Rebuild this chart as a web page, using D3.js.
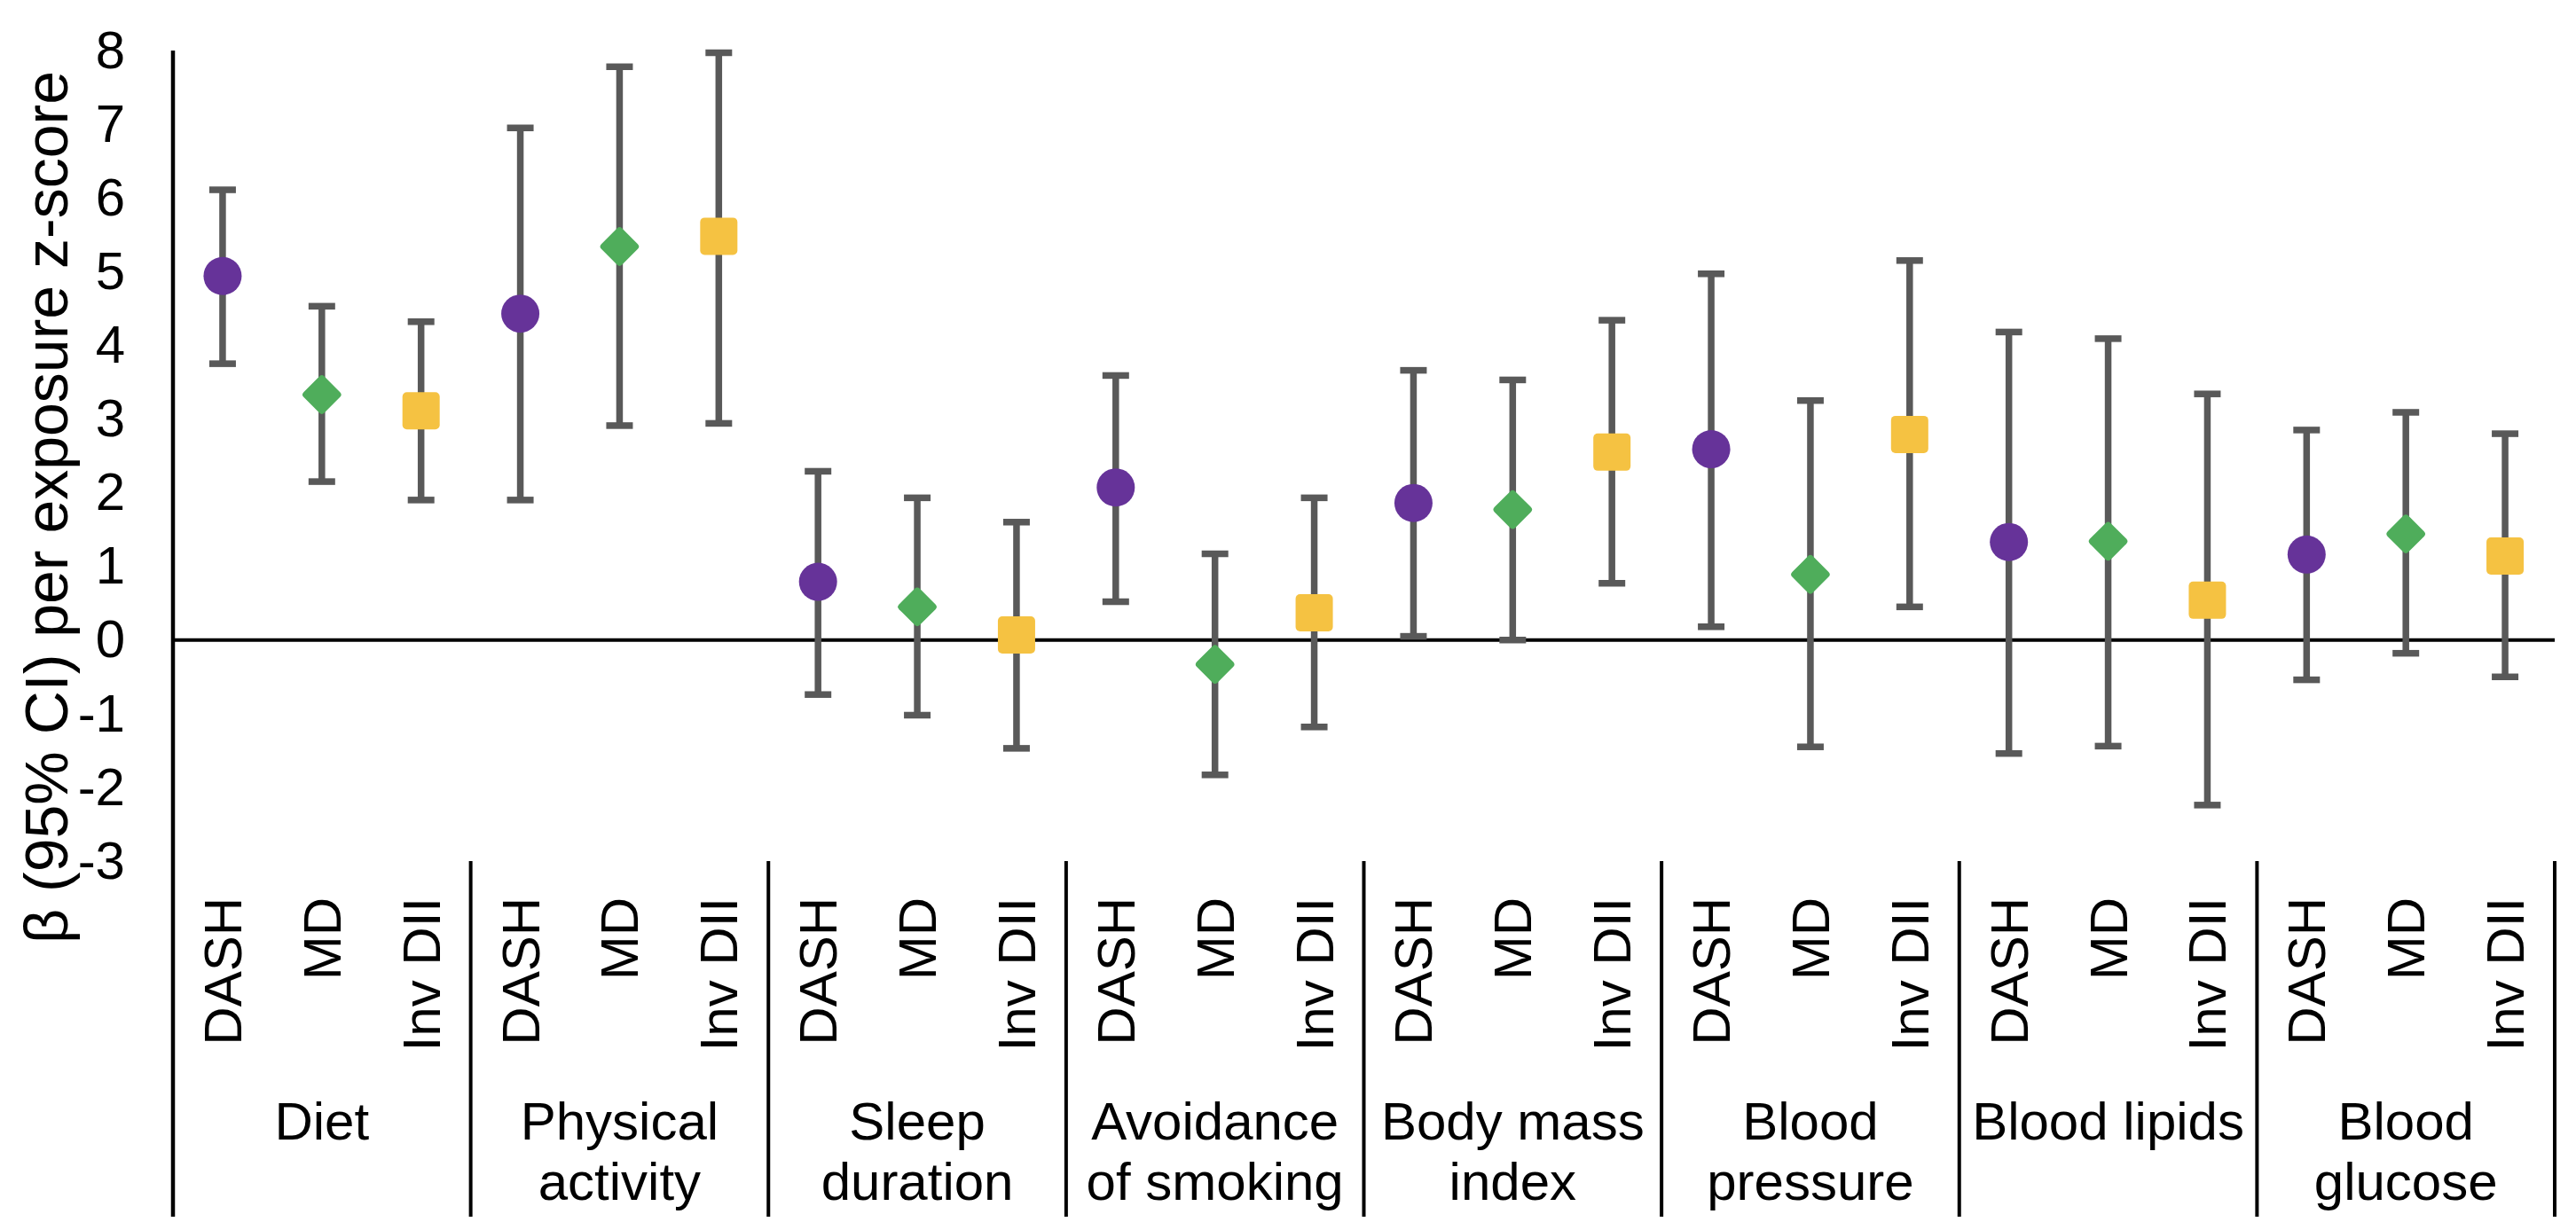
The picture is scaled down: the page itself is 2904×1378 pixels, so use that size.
<!DOCTYPE html>
<html>
  <head>
    <title>Lifestyle factors forest plot</title>
    <script src="https://d3js.org/d3.v7.min.js"></script>
    <style>
      body { margin: 0; background: #fff; }
      text { font-family: "Liberation Sans", Arial, sans-serif; fill: #000; }
      .axis text { font-size: 60px; }
      .sub-label { font-size: 60px; }
      .group-label { font-size: 60px; }
      .axis-title { font-size: 68px; }
    </style>
  </head>
  <body>
    <svg width="2904" height="1378"></svg>
    <script>
      const groups = ["Diet", "Physical activity", "Sleep duration", "Avoidance of smoking",
        "Body mass index", "Blood pressure", "Blood lipids", "Blood glucose"];
      const groupLines = [["Diet"], ["Physical", "activity"], ["Sleep", "duration"],
        ["Avoidance", "of smoking"], ["Body mass", "index"], ["Blood", "pressure"],
        ["Blood lipids"], ["Blood", "glucose"]];
      const scores = ["DASH", "MD", "Inv DII"];
      const yTicks = [-3, -2, -1, 0, 1, 2, 3, 4, 5, 6, 7, 8];

      const dashBeta  = [4.94, 4.43, 0.79, 2.07, 1.86, 2.59, 1.33, 1.16];
      const dashLower = [3.75, 1.90, -0.74, 0.52, 0.05, 0.18, -1.54, -0.54];
      const dashUpper = [6.11, 6.95, 2.29, 3.59, 3.66, 4.97, 4.18, 2.85];

      const mdBeta  = [3.33, 5.34, 0.45, -0.33, 1.77, 0.89, 1.34, 1.44];
      const mdLower = [2.15, 2.91, -1.02, -1.83, 0.00, -1.45, -1.44, -0.18];
      const mdUpper = [4.53, 7.78, 1.93, 1.17, 3.53, 3.25, 4.09, 3.09];

      const diiBeta  = [3.11, 5.48, 0.07, 0.37, 2.55, 2.79, 0.54, 1.14];
      const diiLower = [1.90, 2.94, -1.47, -1.18, 0.77, 0.45, -2.24, -0.50];
      const diiUpper = [4.32, 7.97, 1.60, 1.93, 4.34, 5.15, 3.34, 2.80];

      const series = [
        { score: "DASH", beta: dashBeta, lower: dashLower, upper: dashUpper },
        { score: "MD", beta: mdBeta, lower: mdLower, upper: mdUpper },
        { score: "Inv DII", beta: diiBeta, lower: diiLower, upper: diiUpper }
      ];

      const colors = { "DASH": "#663399", "MD": "#4fad5b", "Inv DII": "#f5c242" };

      // flatten into one row per point
      const rows = [];
      groups.forEach((g, gi) => {
        series.forEach(s => {
          rows.push({ group: g, score: s.score, key: g + "|" + s.score,
            beta: s.beta[gi], lower: s.lower[gi], upper: s.upper[gi] });
        });
      });

      const left = 195;
      const right = 2880;
      const axisBottom = 1372;

      const svg = d3.select("svg");

      const y = d3.scaleLinear()
        .domain([-3, 8])
        .range([971, 57]);

      const x = d3.scaleBand()
        .domain(rows.map(d => d.key))
        .range([left, right]);

      const xGroup = d3.scaleBand()
        .domain(groups)
        .range([left, right]);

      const cx = d => x(d.key) + x.bandwidth() / 2;

      // y axis (plain hyphen for negatives, like the original)
      const yAxisG = svg.append("g")
          .attr("class", "axis")
          .attr("transform", `translate(${left},0)`)
          .call(d3.axisLeft(y)
            .tickValues(yTicks)
            .tickFormat(d => String(d))
            .tickSize(0)
            .tickPadding(54));
      yAxisG.select(".domain").remove();

      svg.append("line")
          .attr("x1", left).attr("x2", left)
          .attr("y1", y(8)).attr("y2", axisBottom)
          .attr("stroke", "#000")
          .attr("stroke-width", 4.5);

      // zero line
      svg.append("line")
          .attr("x1", left).attr("x2", right)
          .attr("y1", y(0)).attr("y2", y(0))
          .attr("stroke", "#000")
          .attr("stroke-width", 4);

      // group separators below the plot
      svg.selectAll(".sep")
        .data(groups.slice(1).map(g => xGroup(g)).concat([right]))
        .enter().append("line")
          .attr("class", "sep")
          .attr("x1", d => d).attr("x2", d => d)
          .attr("y1", y(-3)).attr("y2", axisBottom)
          .attr("stroke", "#000")
          .attr("stroke-width", 4);

      svg.append("text")
          .attr("class", "axis-title")
          .attr("transform", "translate(76,572) rotate(-90)")
          .attr("text-anchor", "middle")
          .text("β (95% CI) per exposure z-score");

      // error bars
      const bars = svg.append("g")
          .attr("stroke", "#595959")
          .attr("stroke-width", 7.5);

      bars.selectAll(".stem")
        .data(rows)
        .enter().append("line")
          .attr("x1", cx).attr("x2", cx)
          .attr("y1", d => y(d.upper)).attr("y2", d => y(d.lower));

      const capHalf = 15;
      bars.selectAll(".cap-top")
        .data(rows)
        .enter().append("line")
          .attr("x1", d => cx(d) - capHalf).attr("x2", d => cx(d) + capHalf)
          .attr("y1", d => y(d.upper)).attr("y2", d => y(d.upper));

      bars.selectAll(".cap-bottom")
        .data(rows)
        .enter().append("line")
          .attr("x1", d => cx(d) - capHalf).attr("x2", d => cx(d) + capHalf)
          .attr("y1", d => y(d.lower)).attr("y2", d => y(d.lower));

      // markers
      const marks = svg.append("g");

      marks.selectAll(".dot")
        .data(rows.filter(d => d.score === "DASH"))
        .enter().append("circle")
          .attr("cx", cx)
          .attr("cy", d => y(d.beta))
          .attr("r", 21.5)
          .attr("fill", colors["DASH"]);

      marks.selectAll(".diamond")
        .data(rows.filter(d => d.score === "MD"))
        .enter().append("rect")
          .attr("x", -16.5).attr("y", -16.5)
          .attr("width", 33).attr("height", 33)
          .attr("rx", 4)
          .attr("transform", d => `translate(${cx(d)},${y(d.beta)}) rotate(45)`)
          .attr("fill", colors["MD"]);

      marks.selectAll(".square")
        .data(rows.filter(d => d.score === "Inv DII"))
        .enter().append("rect")
          .attr("x", d => cx(d) - 21)
          .attr("y", d => y(d.beta) - 21)
          .attr("width", 42).attr("height", 42)
          .attr("rx", 5)
          .attr("fill", colors["Inv DII"]);

      // category labels
      svg.selectAll(".sub-label")
        .data(rows)
        .enter().append("text")
          .attr("class", "sub-label")
          .attr("transform", d => `translate(${cx(d)},1012) rotate(-90)`)
          .attr("text-anchor", "end")
          .attr("dy", "0.35em")
          .text(d => d.score);

      const groupText = svg.selectAll(".group-label")
        .data(groups)
        .enter().append("text")
          .attr("class", "group-label")
          .attr("text-anchor", "middle")
          .attr("x", d => xGroup(d) + xGroup.bandwidth() / 2)
          .attr("y", 1285);

      groupText.selectAll("tspan")
        .data((d, i) => groupLines[i])
        .enter().append("tspan")
          .attr("x", function () { return d3.select(this.parentNode).attr("x"); })
          .attr("dy", (d, i) => i === 0 ? 0 : 68)
          .text(d => d);
    </script>
  </body>
</html>
